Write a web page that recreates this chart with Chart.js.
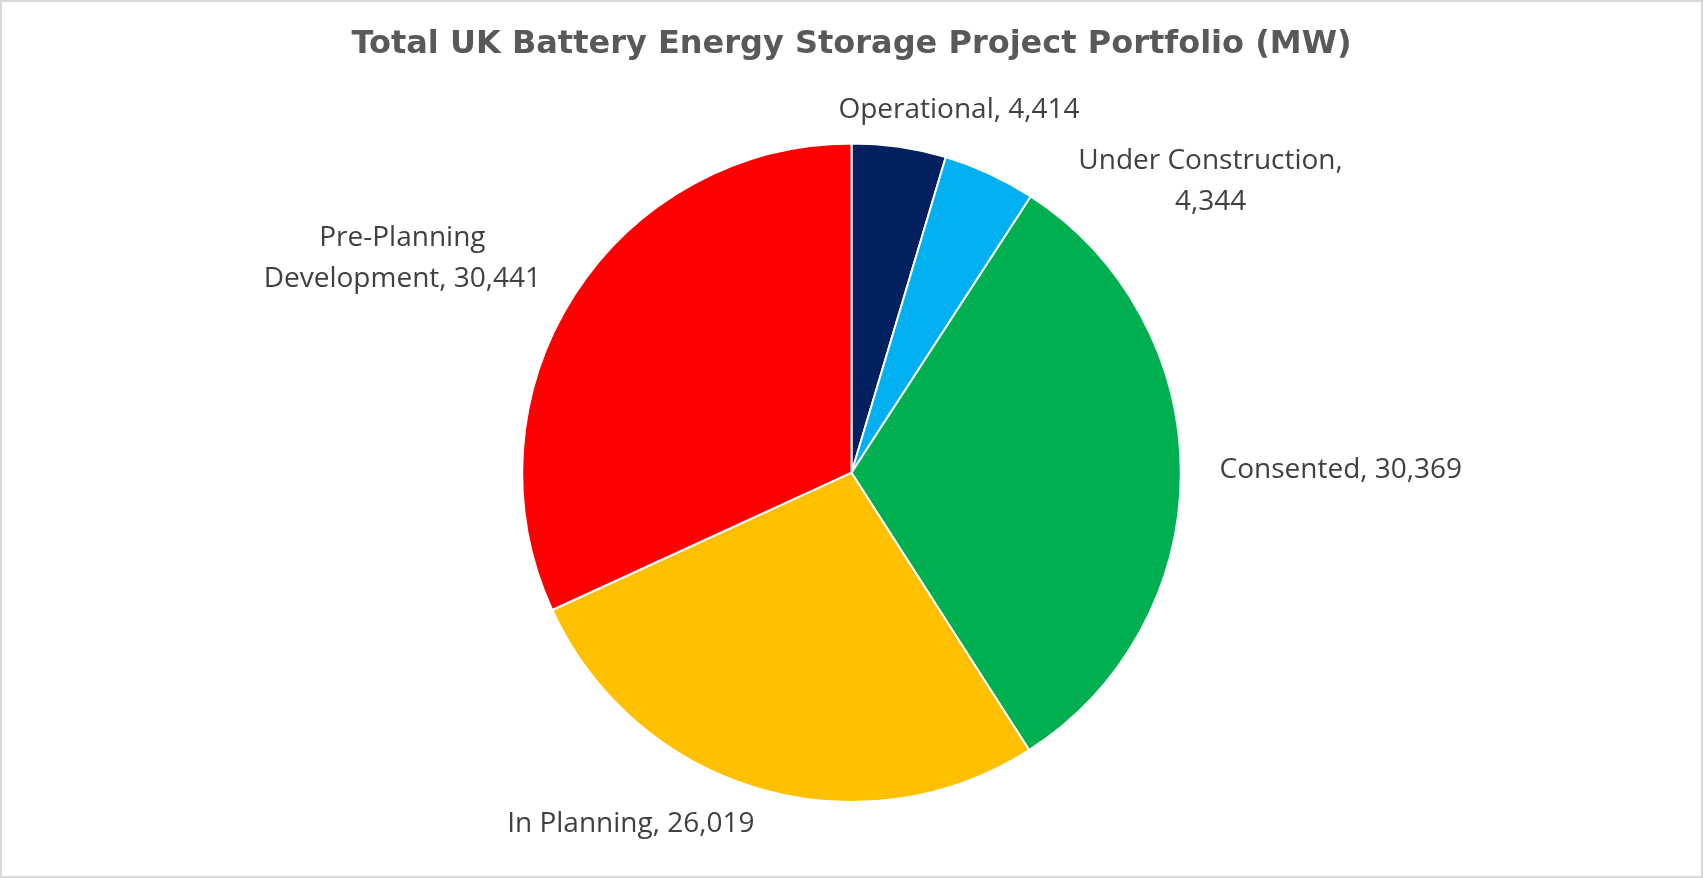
<!DOCTYPE html>
<html lang="en">
<head>
<meta charset="utf-8">
<title>Total UK Battery Energy Storage Project Portfolio (MW)</title>
<script src="https://cdn.jsdelivr.net/npm/chart.js@4/dist/chart.umd.min.js"></script>
<style>
  html, body { margin: 0; padding: 0; background: #ffffff; }
  #frame {
    width: 1703px;
    height: 878px;
    box-sizing: border-box;
    border: 2px solid #d9d9d9;
    background: #ffffff;
  }
  #frame canvas { display: block; }
</style>
</head>
<body>
<div id="frame">
  <canvas id="portfolio-chart" width="1699" height="874"></canvas>
</div>
<script>
"use strict";

// Pipeline stages, clockwise from 12 o'clock.
const CATEGORIES = ["Operational", "Under Construction", "Consented", "In Planning", "Pre-Planning Development"];
const CAPACITY_MW = [4414, 4344, 30369, 26019, 30441];
const COLOURS = ["#002060", "#00B0F0", "#00B050", "#FFC000", "#FF0000"];

// Where each data label sits: angle clockwise from 12 o'clock, distance in pie radii.
const LABEL_ANGLE_DEG = [16.5, 51, 89.7, 212.1, 295.5];
const LABEL_DISTANCE = [1.149, 1.403, 1.486, 1.261, 1.511];

const LABEL_FONT = "400 28px 'Open Sans', sans-serif";
const LABEL_LINE_HEIGHT = 41;
const LABEL_WRAP_PX = 310;

const fmt = (n) => n.toLocaleString("en-GB");

/** Break a label into lines no wider than maxWidth. */
function wrapText(ctx, text, maxWidth) {
  const words = text.split(" ");
  const lines = [];
  let line = "";
  for (const word of words) {
    const next = line ? line + " " + word : word;
    if (line && ctx.measureText(next).width > maxWidth) {
      lines.push(line);
      line = word;
    } else {
      line = next;
    }
  }
  if (line) lines.push(line);
  return lines;
}

/** Excel-style "Category, value" labels around the pie. */
const sliceLabels = {
  id: "sliceLabels",
  afterDatasetsDraw(chart) {
    const ctx = chart.ctx;
    const meta = chart.getDatasetMeta(0);
    ctx.save();
    ctx.font = LABEL_FONT;
    ctx.fillStyle = "#404040";
    ctx.textAlign = "center";
    ctx.textBaseline = "middle";
    meta.data.forEach((arc, i) => {
      const { x, y, outerRadius } = arc.getProps(["x", "y", "outerRadius"], true);
      const a = (LABEL_ANGLE_DEG[i] * Math.PI) / 180;
      const d = outerRadius * LABEL_DISTANCE[i];
      const cx = x + Math.sin(a) * d;
      const cy = y - Math.cos(a) * d;
      const text = `${chart.data.labels[i]}, ${fmt(chart.data.datasets[0].data[i])}`;
      const lines = wrapText(ctx, text, LABEL_WRAP_PX);
      const top = cy - ((lines.length - 1) * LABEL_LINE_HEIGHT) / 2;
      lines.forEach((ln, k) => ctx.fillText(ln, cx, top + k * LABEL_LINE_HEIGHT));
    });
    ctx.restore();
  },
};

new Chart(document.getElementById("portfolio-chart"), {
  type: "pie",
  data: {
    labels: CATEGORIES,
    datasets: [
      {
        data: CAPACITY_MW,
        backgroundColor: COLOURS,
        borderColor: "#ffffff",
        borderWidth: 2,
      },
    ],
  },
  options: {
    responsive: false,
    animation: false,
    layout: { padding: { top: 0, bottom: 73, left: 0, right: 0 } },
    plugins: {
      legend: { display: false },
      tooltip: { enabled: false },
      title: {
        display: true,
        text: "Total UK Battery Energy Storage Project Portfolio (MW)",
        color: "#595959",
        font: { family: "'DejaVu Sans', sans-serif", size: 32, weight: "bold", lineHeight: 1.2 },
        padding: { top: 23, bottom: 79 },
      },
    },
  },
  plugins: [sliceLabels],
});
</script>
</body>
</html>
